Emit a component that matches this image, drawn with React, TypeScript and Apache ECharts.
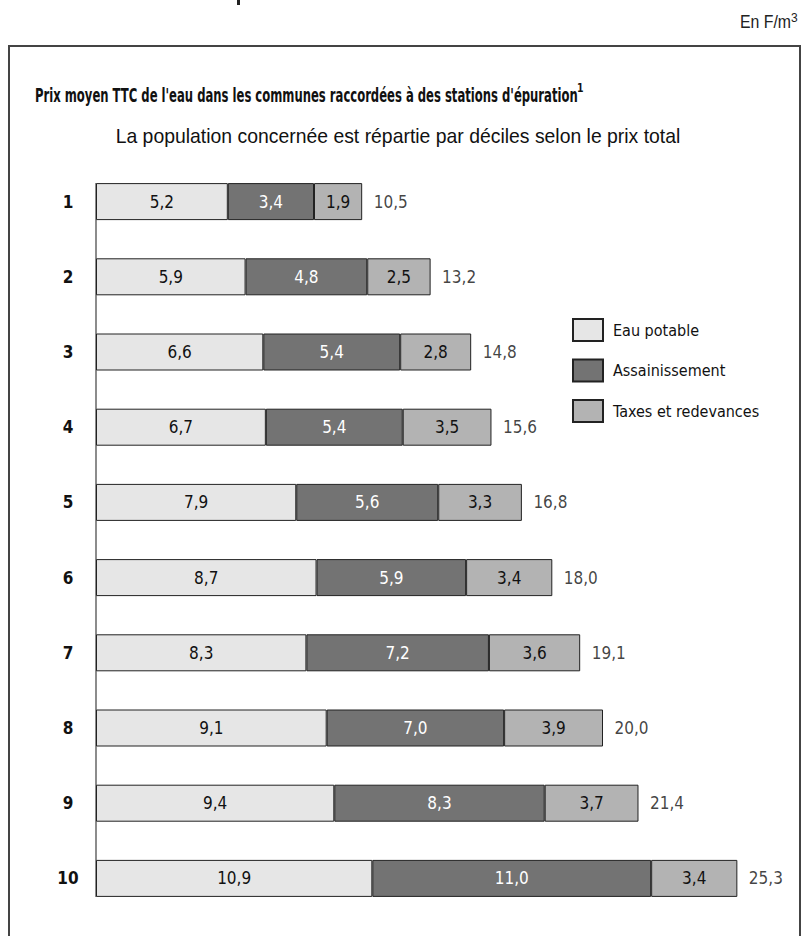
import React, { useEffect, useRef } from "react";
import * as echarts from "echarts";

const categories = ["1", "2", "3", "4", "5", "6", "7", "8", "9", "10"];
const eauPotable = [5.2, 5.9, 6.6, 6.7, 7.9, 8.7, 8.3, 9.1, 9.4, 10.9];
const assainissement = [3.4, 4.8, 5.4, 5.4, 5.6, 5.9, 7.2, 7.0, 8.3, 11.0];
const taxes = [1.9, 2.5, 2.8, 3.5, 3.3, 3.4, 3.6, 3.9, 3.7, 3.4];
const totals = [10.5, 13.2, 14.8, 15.6, 16.8, 18.0, 19.1, 20.0, 21.4, 25.3];
const seriesNames = ["Eau potable", "Assainissement", "Taxes et redevances"];
const titleText = "Prix moyen TTC de l'eau dans les communes raccordées à des stations d'épuration";
const subtitleText = "La population concernée est répartie par déciles selon le prix total";
const unitText = "En F/m";

const NARROW = "'DejaVu Sans Condensed', 'Liberation Sans', sans-serif";
const SANS = "'Liberation Sans', Arial, sans-serif";
const fmt = (v: number) => v.toFixed(1).replace(".", ",");

function measure(text: string, font: string) {
  const ctx = document.createElement("canvas").getContext("2d")!;
  ctx.font = font;
  return ctx.measureText(text).width;
}

export default function App() {
  const ref = useRef<HTMLDivElement>(null);
  useEffect(() => {
    document.body.style.margin = "0";
    const chart = echarts.init(ref.current!, null, { renderer: "svg" });
    const barW = 37;
    const barStyle = (color: string) => ({
      color,
      borderColor: "#222",
      borderWidth: 1,
    });
    const insideLabel = (color: string) => ({
      show: true,
      position: "inside",
      color,
      fontFamily: NARROW,
      fontSize: 17,
      formatter: (p: any) => fmt(p.value),
    });
    chart.setOption({
      animation: false,
      grid: { left: 96, top: 164, height: 752, width: 26 * 25.35 },
      xAxis: { type: "value", min: 0, max: 26, show: false },
      yAxis: {
        type: "category",
        data: categories,
        inverse: true,
        axisLine: { show: false },
        axisTick: { show: false },
        axisLabel: {
          align: "center",
          margin: 28,
          fontFamily: NARROW,
          fontWeight: "bold",
          fontSize: 17,
          color: "#111",
        },
      },
      legend: {
        orient: "vertical",
        left: 567,
        top: 313,
        itemWidth: 30,
        itemHeight: 22,
        itemGap: 16.5,
        icon: "rect",
        data: seriesNames,
        textStyle: {
          fontFamily: NARROW,
          fontSize: 16,
          lineHeight: 22,
          color: "#111",
          padding: [0, 0, 0, 5],
        },
      },
      series: [
        {
          name: seriesNames[0],
          type: "bar",
          stack: "t",
          barWidth: barW,
          data: eauPotable,
          itemStyle: barStyle("#e6e6e6"),
          label: insideLabel("#111"),
        },
        {
          name: seriesNames[1],
          type: "bar",
          stack: "t",
          barWidth: barW,
          data: assainissement,
          itemStyle: barStyle("#737373"),
          label: insideLabel("#fff"),
        },
        {
          name: seriesNames[2],
          type: "bar",
          stack: "t",
          barWidth: barW,
          data: taxes,
          itemStyle: barStyle("#b3b3b3"),
          label: insideLabel("#111"),
        },
        {
          name: "Total",
          type: "scatter",
          symbolSize: 1,
          itemStyle: { color: "rgba(0,0,0,0)" },
          data: totals.map((t, i) => [t, i]),
          label: {
            show: true,
            position: "right",
            distance: 11,
            fontFamily: NARROW,
            fontSize: 17,
            color: "#111",
            formatter: (p: any) => fmt(p.value[0]),
          },
        },
      ],
    });
    const p0 = chart.convertToPixel({ gridIndex: 0 }, [0, 0]) as number[];
    const p9 = chart.convertToPixel({ gridIndex: 0 }, [0, categories.length - 1]) as number[];

    const titleW = 543;
    const titleScale = titleW / measure(titleText, `bold 20px ${NARROW}`);
    const subScale = 565 / measure(subtitleText, `20px ${SANS}`);

    chart.setOption({
      graphic: [
        {
          type: "rect",
          shape: { x: 9, y: 46, width: 791, height: 920 },
          style: { fill: "none", stroke: "#444", lineWidth: 2 },
          z: -1,
        },
        {
          type: "rect",
          shape: { x: 237, y: 0, width: 3, height: 5 },
          style: { fill: "#222" },
        },
        {
          type: "line",
          shape: { x1: p0[0], y1: p0[1] - barW / 2, x2: p9[0], y2: p9[1] + barW / 2 },
          style: { stroke: "#666", lineWidth: 1.5 },
          z: -1,
        },
        {
          type: "text",
          x: 791,
          y: 22,
          scaleX: 0.88,
          style: {
            text: unitText,
            fontSize: 18,
            fontFamily: SANS,
            fill: "#222",
            align: "right",
            verticalAlign: "middle",
          },
        },
        {
          type: "text",
          x: 791,
          y: 18,
          style: {
            text: "3",
            fontSize: 12,
            fontFamily: SANS,
            fill: "#222",
            align: "left",
            verticalAlign: "middle",
          },
        },
        {
          type: "text",
          x: 35,
          y: 95,
          scaleX: titleScale,
          style: {
            text: titleText,
            fontSize: 20,
            fontWeight: "bold",
            fontFamily: NARROW,
            fill: "#111",
            align: "left",
            verticalAlign: "middle",
          },
        },
        {
          type: "text",
          x: 35 + titleW - 1,
          y: 88,
          scaleX: 0.8,
          style: {
            text: "1",
            fontSize: 13,
            fontWeight: "bold",
            fontFamily: NARROW,
            fill: "#111",
            align: "left",
            verticalAlign: "middle",
          },
        },
        {
          type: "text",
          x: 398,
          y: 136,
          scaleX: subScale,
          style: {
            text: subtitleText,
            fontSize: 20,
            fontFamily: SANS,
            fill: "#111",
            align: "center",
            verticalAlign: "middle",
          },
        },
      ],
    });
    return () => chart.dispose();
  }, []);
  return <div ref={ref} style={{ width: 802, height: 936 }} />;
}
